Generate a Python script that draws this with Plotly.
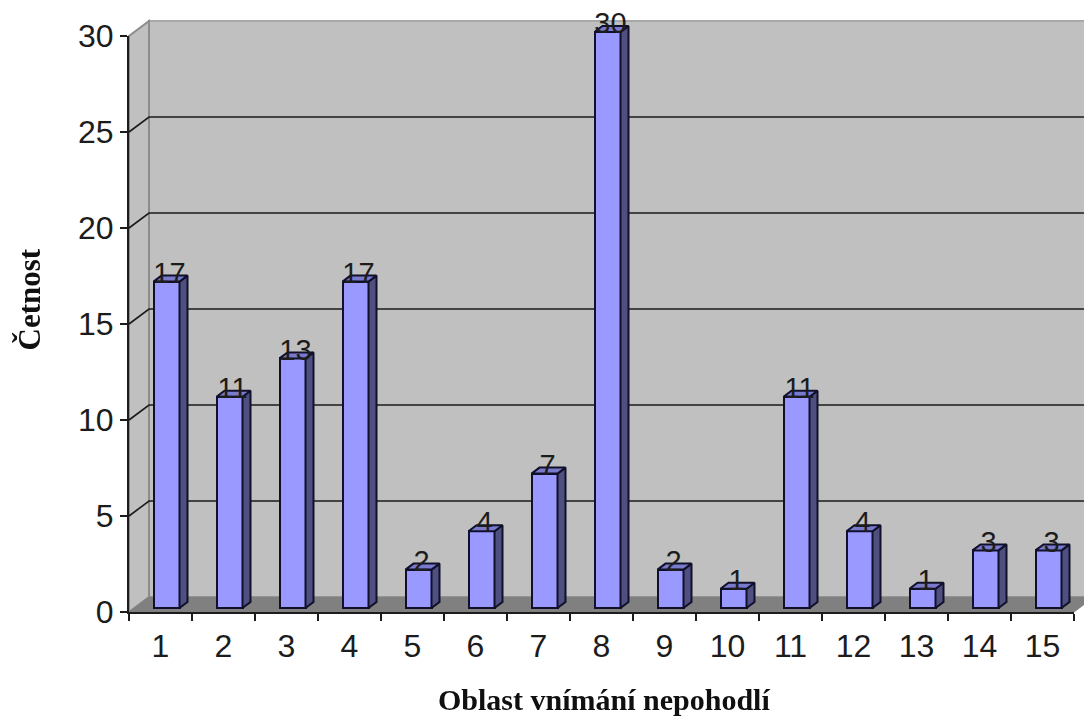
import plotly.graph_objects as go

# Chart data
categories = [str(i) for i in range(1, 16)]
counts = [17, 11, 13, 17, 2, 4, 7, 30, 2, 1, 11, 4, 1, 3, 3]
y_ticks = [0, 5, 10, 15, 20, 25, 30]
x_title = "Oblast vnímání nepohodlí"
y_title = "Četnost"

# Page and pixel scale of the value and category axes
W, H = 1084, 717
LEFT, RIGHT, ZERO, TOP = 129, 1074, 612, 36
CAT_PX = (RIGHT - LEFT) / 15
VAL_PX = (ZERO - TOP) / 30


def dx(px):
    return px / CAT_PX


def dy(px):
    return px / VAL_PX


# Oblique projection offsets, in axis units
WALL_X, WALL_Y = dx(20), dy(15)
BAR_W = dx(26)
BAR_SHIFT = dx(6)
BAR_LIFT = dy(4)
DEPTH_X, DEPTH_Y = dx(8), dy(6)

AX_COLOR = "#1c1c1c"
EDGE = "#10102a"
centres = [i + BAR_SHIFT for i in range(len(counts))]

# Marks use a full-page pair of axes so the projected walls can run past the axis ends
x0_page = -0.5 - dx(LEFT)
x1_page = x0_page + dx(W)
y1_page = dy(ZERO)
y0_page = y1_page - dy(H)

fig = go.Figure()

# Front faces of the bars
fig.add_trace(go.Bar(x=centres, y=counts, base=BAR_LIFT, width=BAR_W,
                     marker=dict(color="#9999FF", line=dict(color=EDGE, width=2)),
                     xaxis="x", yaxis="y", showlegend=False))


def polygons(corner_fn):
    xs, ys = [], []
    for c, v in zip(centres, counts):
        for px, py in corner_fn(c, v):
            xs.append(px)
            ys.append(py)
        xs.append(None)
        ys.append(None)
    return xs, ys


def side_face(c, v):
    r = c + BAR_W / 2
    b, t = BAR_LIFT, BAR_LIFT + v
    return [(r, b), (r + DEPTH_X, b + DEPTH_Y), (r + DEPTH_X, t + DEPTH_Y), (r, t), (r, b)]


def top_face(c, v):
    l, r = c - BAR_W / 2, c + BAR_W / 2
    t = BAR_LIFT + v
    return [(l, t), (l + DEPTH_X, t + DEPTH_Y), (r + DEPTH_X, t + DEPTH_Y), (r, t), (l, t)]


for fn, colour in ((side_face, "#4F4F80"), (top_face, "#7A7ACC")):
    xs, ys = polygons(fn)
    fig.add_trace(go.Scatter(x=xs, y=ys, mode="lines", fill="toself", fillcolor=colour,
                             line=dict(color=EDGE, width=2),
                             xaxis="x", yaxis="y", hoverinfo="skip", showlegend=False))

# Value labels sitting across the bar tops
fig.add_trace(go.Scatter(x=[c + dx(3) for c in centres],
                         y=[v + BAR_LIFT + dy(6) for v in counts],
                         text=[str(v) for v in counts], mode="text",
                         textfont=dict(family="Liberation Sans", size=29, color="#1c1c1c"),
                         textposition="middle center", cliponaxis=False,
                         xaxis="x", yaxis="y", hoverinfo="skip", showlegend=False))

# Labelled axes, drawn as their own subplot over the marks
fig.add_trace(go.Scatter(x=categories, y=counts, mode="markers", opacity=0,
                         xaxis="x2", yaxis="y2", hoverinfo="skip", showlegend=False))


def wall_shape(points, fill, line_color="#8C8C8C", width=2):
    path = "M " + " L ".join(f"{a} {b}" for a, b in points) + " Z"
    return dict(type="path", path=path, xref="x", yref="y", layer="below",
                fillcolor=fill, line=dict(color=line_color, width=width))


xl, xr = -0.5, 14.5
shapes = [
    # Back wall
    wall_shape([(xl + WALL_X, WALL_Y), (xr + WALL_X, WALL_Y), (xr + WALL_X, 30 + WALL_Y), (xl + WALL_X, 30 + WALL_Y)], "#C0C0C0", "#A8A8A8"),
    # Left wall
    wall_shape([(xl, 0), (xl + WALL_X, WALL_Y), (xl + WALL_X, 30 + WALL_Y), (xl, 30)], "#C0C0C0"),
    # Floor
    wall_shape([(xl, 0), (xl + WALL_X, WALL_Y), (xr + WALL_X, WALL_Y), (xr, 0)], "#808080", "#808080", 1),
]

# Gridlines run up the left wall and along the back wall
for tick in y_ticks[1:-1]:
    shapes.append(dict(type="path",
                       path=f"M {xl} {tick} L {xl + WALL_X} {tick + WALL_Y} L {xr + WALL_X} {tick + WALL_Y}",
                       xref="x", yref="y", layer="below",
                       line=dict(color="#1a1a1a", width=1.6)))

title_font = dict(family="Liberation Serif", size=30, color="#101010")
tick_font = dict(size=32, color="#1c1c1c")

fig.update_layout(
    width=W, height=H, autosize=False,
    margin=dict(l=0, r=0, t=0, b=0),
    paper_bgcolor="white", plot_bgcolor="rgba(0,0,0,0)",
    showlegend=False, bargap=0, shapes=shapes,
    font=dict(family="Liberation Sans", color="#1c1c1c"),
    xaxis=dict(domain=[0, 1], range=[x0_page, x1_page], anchor="y",
               visible=False, fixedrange=True),
    yaxis=dict(domain=[0, 1], range=[y0_page, y1_page], anchor="x",
               visible=False, fixedrange=True),
    xaxis2=dict(type="category", categoryorder="array", categoryarray=categories,
                domain=[LEFT / W, RIGHT / W], range=[-0.5, 14.5],
                tickson="boundaries", ticks="outside", ticklen=7, tickwidth=2, tickcolor=AX_COLOR,
                showline=True, linecolor=AX_COLOR, linewidth=2, showgrid=False, zeroline=False,
                tickfont=tick_font, ticklabelstandoff=5, anchor="y2", automargin=False),
    yaxis2=dict(domain=[1 - ZERO / H, 1 - TOP / H], range=[0, 30],
                tickvals=y_ticks, ticks="outside", ticklen=7, tickwidth=2, tickcolor=AX_COLOR,
                showline=True, linecolor=AX_COLOR, linewidth=2, showgrid=False, zeroline=False,
                tickfont=tick_font, anchor="x2", automargin=False),
    annotations=[
        dict(text=f"<b>{x_title}</b>", x=603.5 / W, y=1 - 699.5 / H, xref="paper", yref="paper",
             showarrow=False, font=title_font, xanchor="center", yanchor="middle"),
        dict(text=f"<b>{y_title}</b>", x=28.5 / W, y=1 - 300 / H, xref="paper", yref="paper",
             showarrow=False, font=dict(title_font, size=31), textangle=-90,
             xanchor="center", yanchor="middle"),
    ],
)

fig.write_html("out.html", config={"displayModeBar": False})
